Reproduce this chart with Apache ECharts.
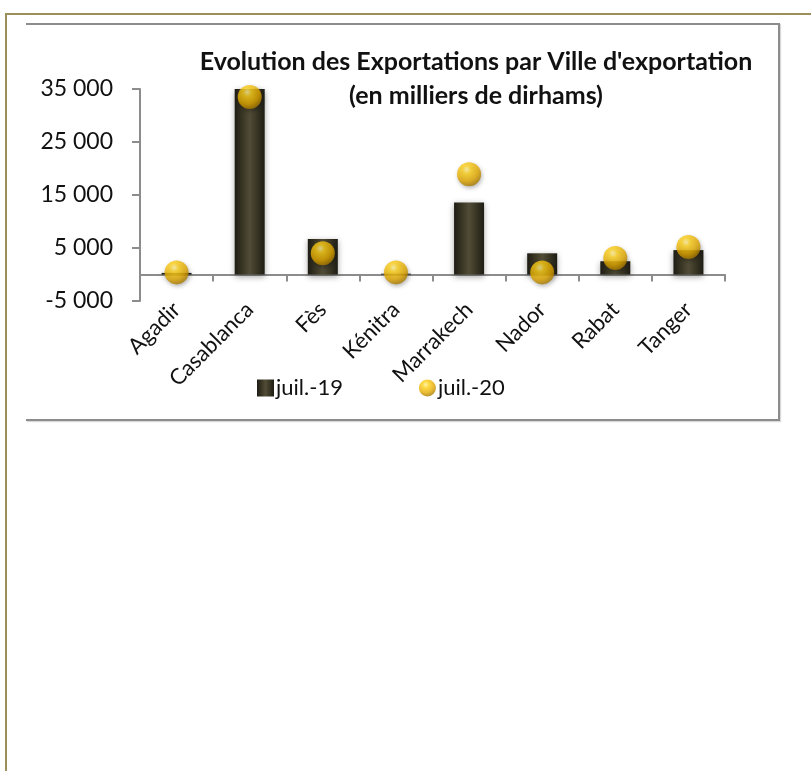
<!DOCTYPE html>
<html>
<head>
<meta charset="utf-8">
<script src="https://cdn.jsdelivr.net/npm/echarts@6/dist/echarts.min.js"></script>
<style>
  html, body { margin: 0; padding: 0; background: #fff; }
  .page { position: relative; width: 811px; height: 771px; overflow: hidden; }
  .frame {
    position: absolute; left: 5px; top: 13px; right: -10px; bottom: -10px;
    border-top: 2px solid #9c8f5a; border-left: 2px solid #9c8f5a;
  }
  .box {
    position: absolute; left: 26px; top: 23px; width: 752px; height: 394px;
    border-top: 2px solid #8c8c8c; border-right: 2px solid #8c8c8c; border-bottom: 2px solid #8c8c8c;
    box-shadow: 1px 1px 1px rgba(0,0,0,0.15);
  }
  #chart { position: absolute; left: 0; top: 0; width: 811px; height: 771px; }
</style>
</head>
<body>
<div class="page">
  <div class="frame"></div>
  <div class="box"></div>
  <div id="chart"></div>
</div>
<script>
// villes d'exportation
const villes = ['Agadir', 'Casablanca', 'Fès', 'Kénitra', 'Marrakech', 'Nador', 'Rabat', 'Tanger']
// en milliers de dirhams
const juil19 = [300, 35000, 6700, 150, 13600, 4000, 2500, 4600]
const juil20 = [400, 33500, 4000, 400, 18900, 400, 3100, 5200]
const seriesNames = ['juil.-19', 'juil.-20']

const font = 'Lato, "Open Sans", sans-serif'

const myCharts = echarts.init(document.getElementById('chart'))
myCharts.setOption({
  animation: false,
  title: {
    text: "Evolution des Exportations par Ville d'exportation\n(en milliers de dirhams)",
    left: 471,
    top: 40,
    textAlign: 'center',
    textStyle: {
      fontFamily: font,
      fontWeight: 'bold',
      fontSize: 25,
      lineHeight: 34,
      color: '#111',
    },
  },
  legend: {
    left: 252,
    top: 372,
    itemWidth: 17,
    itemHeight: 17,
    itemGap: 76,
    textStyle: { fontFamily: font, fontSize: 22, color: '#111', padding: [0, 0, 0, -3] },
    data: [
      { name: seriesNames[0], icon: 'rect' },
      { name: seriesNames[1], icon: 'circle' },
    ],
  },
  grid: {
    left: 140,
    right: 86,
    top: 89,
    bottom: 470,
  },
  xAxis: {
    type: 'category',
    data: villes,
    axisLine: { onZero: true, lineStyle: { color: '#8c8c8c', width: 2 } },
    axisTick: { show: true, length: 7, lineStyle: { color: '#8c8c8c', width: 2 } },
    axisLabel: {
      rotate: 45,
      margin: 5,
      fontFamily: font,
      fontSize: 22,
      color: '#111',
    },
  },
  yAxis: {
    type: 'value',
    min: -5000,
    max: 35000,
    interval: 10000,
    axisLine: { show: true, lineStyle: { color: '#8c8c8c', width: 2 } },
    axisTick: { show: true, length: 8, lineStyle: { color: '#8c8c8c', width: 2 } },
    splitLine: { show: false },
    axisLabel: {
      margin: 27,
      fontFamily: font,
      fontSize: 23,
      color: '#111',
      formatter: (v) => {
        const s = Math.abs(v).toString().replace(/\B(?=(\d{3})+(?!\d))/g, ' ')
        return (v < 0 ? '-' : '') + s
      },
    },
  },
  series: [
    {
      name: seriesNames[0],
      type: 'bar',
      barWidth: 30,
      data: juil19,
      itemStyle: {
        color: new echarts.graphic.LinearGradient(0, 0, 1, 0, [
          { offset: 0, color: '#1e1c14' },
          { offset: 0.25, color: '#383524' },
          { offset: 0.5, color: '#514c36' },
          { offset: 0.75, color: '#383524' },
          { offset: 1, color: '#1e1c14' },
        ]),
        shadowColor: 'rgba(0, 0, 0, 0.35)',
        shadowBlur: 6,
        shadowOffsetY: 2,
      },
    },
    {
      name: seriesNames[1],
      type: 'scatter',
      symbol: 'circle',
      symbolSize: 24,
      data: juil20,
      z: 5,
      itemStyle: {
        color: new echarts.graphic.RadialGradient(0.4, 0.3, 0.7, [
          { offset: 0, color: '#fff1a0' },
          { offset: 0.25, color: '#ffd21a' },
          { offset: 0.7, color: '#e2a800' },
          { offset: 1, color: '#a87a00' },
        ]),
        shadowColor: 'rgba(0, 0, 0, 0.35)',
        shadowBlur: 4,
        shadowOffsetX: 1,
        shadowOffsetY: 2,
      },
    },
  ],
})
</script>
</body>
</html>
